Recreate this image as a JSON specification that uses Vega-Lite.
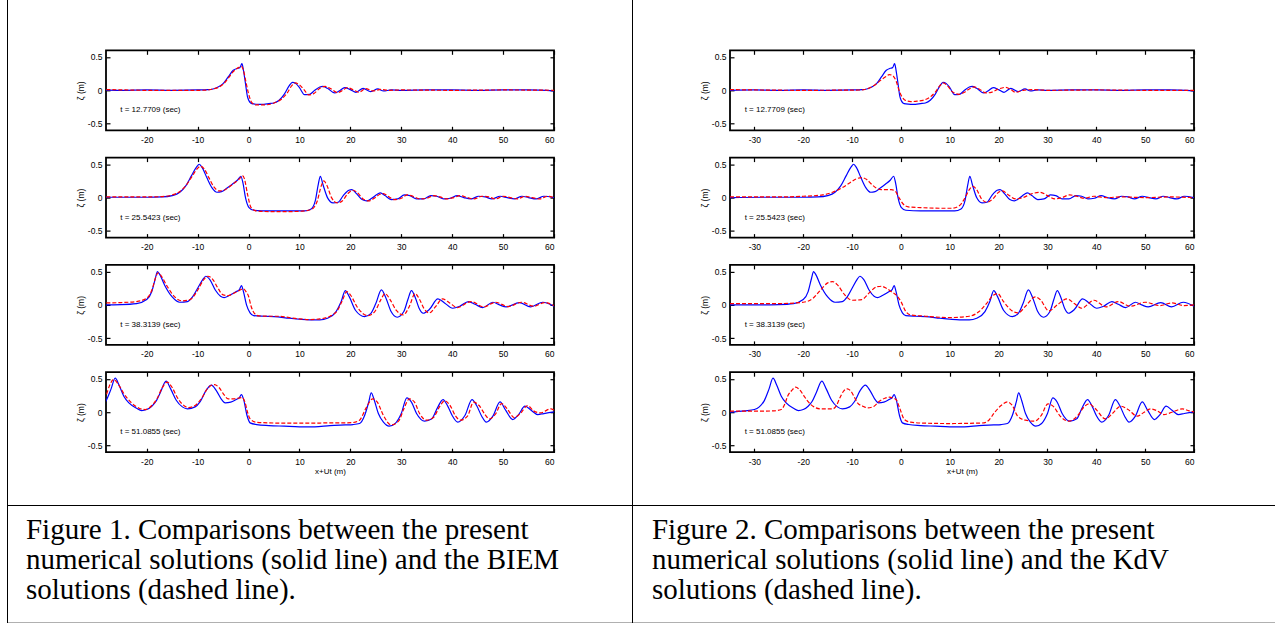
{
  "$schema": "https://vega.github.io/schema/vega-lite/v6.json",
  "padding": {"left": 7, "top": 0, "right": 0, "bottom": 0},
  "background": "white",
  "config": {
    "view": {"stroke": null},
    "axis": {"labelFont": "Liberation Sans Narrow, Liberation Sans, Arial", "labelFontSize": 8.5, "labelColor": "black", "tickColor": "black", "tickWidth": 1.2, "titleFont": "Liberation Sans Narrow, Liberation Sans, Arial", "titleFontSize": 8.5, "titleFontWeight": "normal", "titleColor": "black", "domain": false, "grid": false},
    "text": {"font": "Liberation Sans Narrow, Liberation Sans, Arial", "color": "black"}
  },
  "datasets": {
    "p1": [{"x":-35,"y":0},{"x":-30,"y":0.005},{"x":-25,"y":0},{"x":-20,"y":0.005},{"x":-15,"y":0},{"x":-10,"y":0.005},{"x":-8,"y":0.01},{"x":-7,"y":0.02},{"x":-6,"y":0.05},{"x":-5,"y":0.1},{"x":-4,"y":0.2},{"x":-3,"y":0.3},{"x":-2.2,"y":0.33},{"x":-1.7,"y":0.34},{"x":-1.3,"y":0.4},{"x":-1,"y":0.3},{"x":-0.6,"y":0.1},{"x":-0.2,"y":-0.1},{"x":0.4,"y":-0.19},{"x":1,"y":-0.205},{"x":2,"y":-0.21},{"x":3,"y":-0.21},{"x":4,"y":-0.2},{"x":5,"y":-0.19},{"x":6,"y":-0.15},{"x":7,"y":-0.06},{"x":8,"y":0.07},{"x":8.6,"y":0.12},{"x":9.3,"y":0.1},{"x":10,"y":0.04},{"x":11,"y":-0.065},{"x":12,"y":-0.06},{"x":13,"y":0},{"x":14,"y":0.05},{"x":14.6,"y":0.06},{"x":15.5,"y":0.03},{"x":16.9,"y":-0.04},{"x":17.8,"y":-0.01},{"x":18.9,"y":0.04},{"x":20,"y":0.01},{"x":21.1,"y":-0.03},{"x":22.5,"y":0.03},{"x":24,"y":-0.02},{"x":25.4,"y":0.02},{"x":26.5,"y":-0.01},{"x":28,"y":0.005},{"x":30,"y":0},{"x":35,"y":0.005},{"x":40,"y":0.005},{"x":45,"y":0},{"x":50,"y":0.005},{"x":55,"y":0.005},{"x":60,"y":-0.01}],
    "b1": [{"x":-35,"y":0.01},{"x":-28,"y":0.01},{"x":-20,"y":0},{"x":-10,"y":0},{"x":-8,"y":0.005},{"x":-7,"y":0.02},{"x":-6,"y":0.04},{"x":-5,"y":0.09},{"x":-4,"y":0.18},{"x":-3,"y":0.28},{"x":-2,"y":0.34},{"x":-1.4,"y":0.36},{"x":-1,"y":0.3},{"x":-0.5,"y":0.12},{"x":0,"y":-0.05},{"x":0.6,"y":-0.18},{"x":1.5,"y":-0.22},{"x":3,"y":-0.22},{"x":5,"y":-0.19},{"x":6.5,"y":-0.13},{"x":7.5,"y":-0.05},{"x":8.5,"y":0.07},{"x":9.2,"y":0.11},{"x":10,"y":0.08},{"x":11,"y":0},{"x":11.8,"y":-0.07},{"x":12.8,"y":-0.05},{"x":14,"y":0.03},{"x":15,"y":0.06},{"x":16,"y":0.03},{"x":17.5,"y":-0.035},{"x":18.5,"y":0},{"x":19.4,"y":0.04},{"x":20.5,"y":0.01},{"x":21.7,"y":-0.03},{"x":23,"y":0.025},{"x":24.5,"y":-0.01},{"x":26,"y":0.015},{"x":27.5,"y":0},{"x":30,"y":0.005},{"x":40,"y":0},{"x":50,"y":0.005},{"x":60,"y":0}],
    "k1": [{"x":-35,"y":0.01},{"x":-20,"y":0},{"x":-8,"y":0.005},{"x":-7,"y":0.02},{"x":-6,"y":0.05},{"x":-5,"y":0.1},{"x":-4,"y":0.16},{"x":-3,"y":0.21},{"x":-2.4,"y":0.235},{"x":-1.7,"y":0.22},{"x":-1,"y":0.14},{"x":-0.3,"y":-0.02},{"x":0.7,"y":-0.14},{"x":2,"y":-0.17},{"x":3,"y":-0.165},{"x":4.5,"y":-0.15},{"x":6,"y":-0.1},{"x":7,"y":-0.03},{"x":8,"y":0.07},{"x":8.6,"y":0.11},{"x":9.5,"y":0.07},{"x":10.5,"y":-0.02},{"x":11.9,"y":-0.06},{"x":13,"y":-0.03},{"x":14,"y":0.02},{"x":15,"y":0.05},{"x":16,"y":0.02},{"x":17.4,"y":-0.04},{"x":18.5,"y":-0.03},{"x":20,"y":0.02},{"x":21.5,"y":0.045},{"x":22.5,"y":0.01},{"x":23.5,"y":-0.03},{"x":25,"y":0},{"x":27,"y":0.01},{"x":30,"y":0},{"x":40,"y":0.005},{"x":50,"y":0},{"x":60,"y":0}],
    "p2": [{"x":-35,"y":0},{"x":-28,"y":0.005},{"x":-20,"y":0.005},{"x":-17,"y":0.01},{"x":-15,"y":0.03},{"x":-13.5,"y":0.08},{"x":-12.3,"y":0.18},{"x":-11.2,"y":0.33},{"x":-10.2,"y":0.46},{"x":-9.7,"y":0.5},{"x":-9.1,"y":0.45},{"x":-8.2,"y":0.3},{"x":-7.2,"y":0.15},{"x":-6.2,"y":0.08},{"x":-5.3,"y":0.09},{"x":-4.3,"y":0.14},{"x":-3.2,"y":0.2},{"x":-2.2,"y":0.26},{"x":-1.5,"y":0.32},{"x":-1.1,"y":0.22},{"x":-0.6,"y":0},{"x":0.1,"y":-0.15},{"x":1,"y":-0.19},{"x":4,"y":-0.2},{"x":8,"y":-0.2},{"x":11,"y":-0.2},{"x":12.3,"y":-0.17},{"x":13.1,"y":-0.05},{"x":13.7,"y":0.2},{"x":14.1,"y":0.32},{"x":14.6,"y":0.2},{"x":15.5,"y":0},{"x":16.6,"y":-0.08},{"x":17.6,"y":-0.07},{"x":18.6,"y":0.03},{"x":19.7,"y":0.11},{"x":20.3,"y":0.12},{"x":21.2,"y":0.06},{"x":22.3,"y":-0.03},{"x":23.2,"y":-0.05},{"x":24.2,"y":-0.01},{"x":25.3,"y":0.05},{"x":25.9,"y":0.07},{"x":26.8,"y":0.03},{"x":28,"y":-0.03},{"x":29.3,"y":-0.02},{"x":30.6,"y":0.04},{"x":31.7,"y":0.03},{"x":33,"y":-0.02},{"x":34.4,"y":-0.02},{"x":35.8,"y":0.03},{"x":37,"y":0.02},{"x":38.3,"y":-0.02},{"x":39.6,"y":-0.01},{"x":41,"y":0.03},{"x":42.3,"y":0},{"x":43.7,"y":-0.02},{"x":45.2,"y":0.02},{"x":46.5,"y":0.01},{"x":47.8,"y":-0.02},{"x":49.4,"y":0.02},{"x":50.8,"y":0},{"x":52.2,"y":-0.02},{"x":53.7,"y":0.02},{"x":55,"y":0},{"x":56.5,"y":-0.02},{"x":58,"y":0.02},{"x":60,"y":0}],
    "b2": [{"x":-35,"y":0.005},{"x":-28,"y":0.01},{"x":-20,"y":0.01},{"x":-17,"y":0.015},{"x":-15,"y":0.04},{"x":-13.5,"y":0.09},{"x":-12.2,"y":0.19},{"x":-11,"y":0.33},{"x":-10,"y":0.44},{"x":-9.4,"y":0.47},{"x":-8.7,"y":0.43},{"x":-7.8,"y":0.3},{"x":-6.8,"y":0.16},{"x":-5.8,"y":0.1},{"x":-4.8,"y":0.11},{"x":-3.8,"y":0.16},{"x":-2.8,"y":0.22},{"x":-1.8,"y":0.28},{"x":-1.2,"y":0.33},{"x":-0.8,"y":0.28},{"x":-0.2,"y":0.05},{"x":0.5,"y":-0.15},{"x":1.5,"y":-0.2},{"x":4,"y":-0.21},{"x":8,"y":-0.21},{"x":11,"y":-0.2},{"x":12.5,"y":-0.17},{"x":13.5,"y":-0.05},{"x":14.3,"y":0.18},{"x":14.8,"y":0.25},{"x":15.4,"y":0.18},{"x":16.3,"y":0},{"x":17.4,"y":-0.08},{"x":18.4,"y":-0.05},{"x":19.5,"y":0.06},{"x":20.5,"y":0.11},{"x":21.3,"y":0.08},{"x":22.5,"y":-0.02},{"x":23.6,"y":-0.05},{"x":24.7,"y":-0.01},{"x":25.8,"y":0.05},{"x":26.5,"y":0.06},{"x":27.4,"y":0.02},{"x":28.6,"y":-0.03},{"x":30,"y":-0.01},{"x":31.2,"y":0.04},{"x":32.3,"y":0.02},{"x":33.6,"y":-0.02},{"x":35,"y":-0.01},{"x":36.4,"y":0.03},{"x":37.6,"y":0.01},{"x":38.9,"y":-0.02},{"x":40.3,"y":0},{"x":41.6,"y":0.03},{"x":43,"y":0},{"x":44.3,"y":-0.02},{"x":45.8,"y":0.02},{"x":47.2,"y":0.01},{"x":48.5,"y":-0.02},{"x":50,"y":0.02},{"x":51.4,"y":0},{"x":52.8,"y":-0.02},{"x":54.3,"y":0.02},{"x":55.7,"y":0},{"x":57.2,"y":-0.02},{"x":58.7,"y":0.02},{"x":60,"y":0}],
    "k2": [{"x":-35,"y":0.01},{"x":-25,"y":0.01},{"x":-20,"y":0.02},{"x":-16,"y":0.04},{"x":-14,"y":0.08},{"x":-12,"y":0.15},{"x":-10.5,"y":0.22},{"x":-9.2,"y":0.28},{"x":-8,"y":0.3},{"x":-7,"y":0.27},{"x":-6,"y":0.2},{"x":-5,"y":0.14},{"x":-4,"y":0.12},{"x":-3,"y":0.12},{"x":-2,"y":0.12},{"x":-1.2,"y":0.1},{"x":-0.4,"y":0},{"x":0.5,"y":-0.1},{"x":1.5,"y":-0.14},{"x":4,"y":-0.15},{"x":8,"y":-0.16},{"x":10.5,"y":-0.16},{"x":12,"y":-0.12},{"x":13,"y":-0.02},{"x":14,"y":0.12},{"x":14.7,"y":0.17},{"x":15.5,"y":0.12},{"x":16.5,"y":-0.02},{"x":17.6,"y":-0.07},{"x":18.8,"y":-0.02},{"x":20,"y":0.08},{"x":20.8,"y":0.1},{"x":22,"y":0.04},{"x":23.5,"y":-0.02},{"x":25,"y":0},{"x":26.5,"y":0.05},{"x":28.5,"y":0.08},{"x":30,"y":0.03},{"x":31.5,"y":-0.02},{"x":33,"y":0},{"x":34.5,"y":0.04},{"x":36,"y":0.02},{"x":37.5,"y":-0.01},{"x":39.5,"y":0.02},{"x":42,"y":0},{"x":45,"y":0.01},{"x":50,"y":0},{"x":55,"y":0.01},{"x":60,"y":0}],
    "p3": [{"x":-35,"y":0},{"x":-30,"y":0},{"x":-25,"y":0.005},{"x":-22,"y":0.02},{"x":-20,"y":0.08},{"x":-19,"y":0.2},{"x":-18.3,"y":0.4},{"x":-17.9,"y":0.5},{"x":-17.4,"y":0.45},{"x":-16.5,"y":0.3},{"x":-15,"y":0.12},{"x":-13.5,"y":0.04},{"x":-12,"y":0.05},{"x":-11,"y":0.12},{"x":-10,"y":0.25},{"x":-9,"y":0.38},{"x":-8.4,"y":0.43},{"x":-7.6,"y":0.38},{"x":-6.5,"y":0.22},{"x":-5.5,"y":0.13},{"x":-4.8,"y":0.11},{"x":-3.8,"y":0.14},{"x":-2.4,"y":0.2},{"x":-1.8,"y":0.23},{"x":-1.4,"y":0.29},{"x":-1,"y":0.2},{"x":-0.4,"y":0},{"x":0.3,"y":-0.12},{"x":1,"y":-0.16},{"x":3,"y":-0.17},{"x":5,"y":-0.175},{"x":8,"y":-0.2},{"x":10,"y":-0.215},{"x":12,"y":-0.225},{"x":14,"y":-0.225},{"x":15.5,"y":-0.2},{"x":17.2,"y":-0.1},{"x":18.2,"y":0.05},{"x":19,"y":0.215},{"x":19.8,"y":0.12},{"x":21,"y":-0.08},{"x":22.8,"y":-0.175},{"x":24,"y":-0.13},{"x":25,"y":0.02},{"x":26.1,"y":0.225},{"x":27,"y":0.1},{"x":28,"y":-0.1},{"x":29.2,"y":-0.185},{"x":30.5,"y":-0.1},{"x":31.3,"y":0.08},{"x":32,"y":0.215},{"x":32.8,"y":0.1},{"x":33.5,"y":-0.05},{"x":34.3,"y":-0.125},{"x":35.5,"y":-0.07},{"x":37.2,"y":0.09},{"x":38.5,"y":0.03},{"x":40.1,"y":-0.05},{"x":41.5,"y":-0.02},{"x":43.2,"y":0.05},{"x":44.5,"y":0.01},{"x":46,"y":-0.04},{"x":48,"y":0.04},{"x":49.3,"y":0},{"x":50.6,"y":-0.03},{"x":53.2,"y":0.035},{"x":55.4,"y":-0.03},{"x":57.8,"y":0.04},{"x":60,"y":-0.02}],
    "b3": [{"x":-35,"y":0.03},{"x":-28,"y":0.03},{"x":-25,"y":0.035},{"x":-22,"y":0.05},{"x":-20,"y":0.1},{"x":-19,"y":0.22},{"x":-18.2,"y":0.42},{"x":-17.8,"y":0.48},{"x":-17.2,"y":0.44},{"x":-16,"y":0.28},{"x":-14.5,"y":0.12},{"x":-13,"y":0.06},{"x":-11.5,"y":0.08},{"x":-10,"y":0.22},{"x":-8.8,"y":0.38},{"x":-8,"y":0.43},{"x":-7,"y":0.38},{"x":-6,"y":0.25},{"x":-5,"y":0.15},{"x":-4,"y":0.14},{"x":-3,"y":0.17},{"x":-2,"y":0.21},{"x":-1,"y":0.24},{"x":-0.5,"y":0.2},{"x":0,"y":0.13},{"x":0.5,"y":-0.02},{"x":1.2,"y":-0.13},{"x":2,"y":-0.165},{"x":4,"y":-0.17},{"x":6,"y":-0.17},{"x":8,"y":-0.19},{"x":10,"y":-0.21},{"x":12,"y":-0.22},{"x":14,"y":-0.21},{"x":16,"y":-0.17},{"x":17.5,"y":-0.08},{"x":18.5,"y":0.08},{"x":19.3,"y":0.2},{"x":20,"y":0.15},{"x":21.5,"y":-0.05},{"x":23.4,"y":-0.16},{"x":24.8,"y":-0.1},{"x":26,"y":0.08},{"x":26.8,"y":0.17},{"x":27.8,"y":0.08},{"x":29,"y":-0.08},{"x":30.4,"y":-0.15},{"x":31.6,"y":-0.02},{"x":32.7,"y":0.17},{"x":33.6,"y":0.08},{"x":34.5,"y":-0.06},{"x":35.5,"y":-0.12},{"x":36.8,"y":-0.02},{"x":38.1,"y":0.09},{"x":39.5,"y":0.03},{"x":41,"y":-0.04},{"x":43.7,"y":0.05},{"x":46.2,"y":-0.03},{"x":48.5,"y":0.04},{"x":51,"y":-0.025},{"x":53.6,"y":0.04},{"x":56,"y":-0.02},{"x":58.2,"y":0.035},{"x":60,"y":-0.01}],
    "k3": [{"x":-35,"y":0.02},{"x":-25,"y":0.02},{"x":-20,"y":0.04},{"x":-18,"y":0.1},{"x":-16.5,"y":0.22},{"x":-15,"y":0.33},{"x":-14,"y":0.35},{"x":-13,"y":0.3},{"x":-11.5,"y":0.15},{"x":-10,"y":0.07},{"x":-8,"y":0.08},{"x":-6.5,"y":0.18},{"x":-5,"y":0.27},{"x":-4,"y":0.28},{"x":-3,"y":0.25},{"x":-2,"y":0.2},{"x":-1,"y":0.15},{"x":0,"y":0.05},{"x":1,"y":-0.1},{"x":2,"y":-0.15},{"x":5,"y":-0.17},{"x":10,"y":-0.19},{"x":14,"y":-0.17},{"x":16,"y":-0.1},{"x":17.5,"y":0.02},{"x":19,"y":0.15},{"x":19.8,"y":0.17},{"x":21,"y":0.05},{"x":23,"y":-0.1},{"x":24,"y":-0.12},{"x":25.5,"y":-0.02},{"x":27.5,"y":0.12},{"x":28.5,"y":0.08},{"x":30.3,"y":-0.09},{"x":32,"y":0},{"x":34,"y":0.09},{"x":35.5,"y":0.02},{"x":37,"y":-0.05},{"x":39.5,"y":0.07},{"x":42,"y":-0.03},{"x":44.5,"y":0.05},{"x":47,"y":-0.02},{"x":50,"y":0.04},{"x":53,"y":-0.01},{"x":55.5,"y":0.03},{"x":58,"y":-0.01},{"x":60,"y":0}],
    "p4": [{"x":-35,"y":0},{"x":-32,"y":0.02},{"x":-30,"y":0.04},{"x":-29,"y":0.08},{"x":-28,"y":0.17},{"x":-27,"y":0.35},{"x":-26.2,"y":0.51},{"x":-25.4,"y":0.4},{"x":-24.5,"y":0.24},{"x":-23.5,"y":0.14},{"x":-22,"y":0.06},{"x":-21,"y":0.025},{"x":-20,"y":0.04},{"x":-19,"y":0.09},{"x":-18.2,"y":0.16},{"x":-17.3,"y":0.3},{"x":-16.2,"y":0.465},{"x":-15.3,"y":0.35},{"x":-14.2,"y":0.18},{"x":-13,"y":0.08},{"x":-12,"y":0.05},{"x":-10.5,"y":0.08},{"x":-9.5,"y":0.16},{"x":-8.3,"y":0.33},{"x":-7.3,"y":0.405},{"x":-6.3,"y":0.32},{"x":-5.2,"y":0.18},{"x":-4.6,"y":0.14},{"x":-3.5,"y":0.15},{"x":-2.4,"y":0.19},{"x":-1.8,"y":0.22},{"x":-1.4,"y":0.265},{"x":-1,"y":0.2},{"x":-0.3,"y":-0.05},{"x":0.3,"y":-0.16},{"x":1.6,"y":-0.185},{"x":4,"y":-0.2},{"x":7,"y":-0.21},{"x":10,"y":-0.22},{"x":13,"y":-0.22},{"x":16,"y":-0.2},{"x":19,"y":-0.19},{"x":20.5,"y":-0.185},{"x":21.8,"y":-0.17},{"x":22.8,"y":-0.05},{"x":23.6,"y":0.15},{"x":24.1,"y":0.29},{"x":24.7,"y":0.18},{"x":25.5,"y":-0.02},{"x":26.5,"y":-0.15},{"x":27.6,"y":-0.21},{"x":28.8,"y":-0.17},{"x":30,"y":-0.02},{"x":31.1,"y":0.215},{"x":32,"y":0.15},{"x":33,"y":-0.02},{"x":34.6,"y":-0.135},{"x":36,"y":-0.1},{"x":37,"y":0.05},{"x":38.2,"y":0.19},{"x":39.2,"y":0.08},{"x":40,"y":-0.05},{"x":41.1,"y":-0.15},{"x":42.5,"y":-0.05},{"x":43.9,"y":0.19},{"x":44.8,"y":0.1},{"x":45.8,"y":-0.06},{"x":46.7,"y":-0.15},{"x":48,"y":-0.06},{"x":49.4,"y":0.155},{"x":50.5,"y":0.03},{"x":51.9,"y":-0.11},{"x":53,"y":-0.04},{"x":54.3,"y":0.09},{"x":55.5,"y":0.03},{"x":56.8,"y":-0.035},{"x":58,"y":-0.02},{"x":60,"y":0.005}],
    "b4": [{"x":-35,"y":0.05},{"x":-30,"y":0.1},{"x":-28,"y":0.25},{"x":-27.3,"y":0.4},{"x":-26.5,"y":0.49},{"x":-25.6,"y":0.42},{"x":-24.5,"y":0.28},{"x":-23,"y":0.14},{"x":-21.5,"y":0.06},{"x":-20.3,"y":0.04},{"x":-19,"y":0.1},{"x":-18,"y":0.2},{"x":-17,"y":0.36},{"x":-16,"y":0.45},{"x":-15,"y":0.37},{"x":-14,"y":0.22},{"x":-13,"y":0.12},{"x":-11.8,"y":0.07},{"x":-10.5,"y":0.1},{"x":-9.3,"y":0.2},{"x":-8,"y":0.36},{"x":-6.7,"y":0.415},{"x":-5.8,"y":0.37},{"x":-4.8,"y":0.26},{"x":-4,"y":0.2},{"x":-3,"y":0.2},{"x":-2,"y":0.21},{"x":-1.3,"y":0.22},{"x":-0.7,"y":0.15},{"x":-0.2,"y":0},{"x":0.3,"y":-0.1},{"x":1.5,"y":-0.15},{"x":4,"y":-0.16},{"x":8,"y":-0.165},{"x":12,"y":-0.165},{"x":16,"y":-0.16},{"x":19,"y":-0.16},{"x":20.5,"y":-0.155},{"x":21.8,"y":-0.12},{"x":23,"y":0.05},{"x":24.4,"y":0.2},{"x":25.3,"y":0.15},{"x":26.5,"y":-0.05},{"x":28,"y":-0.19},{"x":29.5,"y":-0.13},{"x":30.5,"y":0.05},{"x":31.6,"y":0.2},{"x":32.6,"y":0.15},{"x":33.6,"y":-0.02},{"x":35,"y":-0.12},{"x":36.3,"y":-0.08},{"x":37.5,"y":0.08},{"x":38.5,"y":0.17},{"x":39.6,"y":0.1},{"x":40.6,"y":-0.05},{"x":41.6,"y":-0.12},{"x":43,"y":-0.06},{"x":44.2,"y":0.15},{"x":45.3,"y":0.1},{"x":46.4,"y":-0.03},{"x":47.3,"y":-0.1},{"x":48.5,"y":-0.03},{"x":49.7,"y":0.13},{"x":50.8,"y":0.05},{"x":52.2,"y":-0.08},{"x":53.5,"y":-0.01},{"x":54.8,"y":0.1},{"x":56,"y":0.02},{"x":57.3,"y":-0.01},{"x":59.4,"y":0.05},{"x":60,"y":0.03}],
    "k4": [{"x":-35,"y":0.015},{"x":-30,"y":0.015},{"x":-26,"y":0.02},{"x":-24.5,"y":0.04},{"x":-23.8,"y":0.12},{"x":-23.2,"y":0.24},{"x":-22.3,"y":0.33},{"x":-21.6,"y":0.375},{"x":-20.8,"y":0.34},{"x":-19.9,"y":0.25},{"x":-19.1,"y":0.165},{"x":-17.8,"y":0.08},{"x":-16.4,"y":0.05},{"x":-14,"y":0.05},{"x":-13.2,"y":0.1},{"x":-12.6,"y":0.2},{"x":-11.7,"y":0.32},{"x":-11,"y":0.35},{"x":-10.2,"y":0.31},{"x":-9.5,"y":0.22},{"x":-8.9,"y":0.14},{"x":-7.8,"y":0.09},{"x":-6.8,"y":0.065},{"x":-5.5,"y":0.09},{"x":-4.5,"y":0.16},{"x":-3.3,"y":0.21},{"x":-2.4,"y":0.225},{"x":-1.7,"y":0.215},{"x":-1,"y":0.19},{"x":-0.2,"y":0.05},{"x":0.7,"y":-0.11},{"x":2,"y":-0.15},{"x":5,"y":-0.165},{"x":10,"y":-0.17},{"x":15,"y":-0.165},{"x":17,"y":-0.16},{"x":18,"y":-0.12},{"x":19.1,"y":-0.01},{"x":20.5,"y":0.1},{"x":21.8,"y":0.155},{"x":22.8,"y":0.1},{"x":23.9,"y":-0.06},{"x":25.5,"y":-0.12},{"x":27.3,"y":-0.135},{"x":28.7,"y":-0.05},{"x":30.1,"y":0.125},{"x":31.3,"y":0.08},{"x":32.5,"y":-0.05},{"x":34.4,"y":-0.135},{"x":36.2,"y":-0.05},{"x":37.5,"y":0.08},{"x":38.5,"y":0.125},{"x":39.7,"y":0.06},{"x":41.9,"y":-0.1},{"x":43.3,"y":-0.02},{"x":45,"y":0.09},{"x":46.5,"y":0.04},{"x":48.4,"y":-0.06},{"x":49.8,"y":0},{"x":51.1,"y":0.05},{"x":52.5,"y":0.02},{"x":53.8,"y":-0.035},{"x":55.5,"y":0},{"x":57.6,"y":0.05},{"x":59,"y":0.02},{"x":60,"y":0.005}]
  },
  "hconcat": [
    {"data": {"values": []}, "mark": "point", "width": 1, "height": 623, "view": {"stroke": null, "fill": "black"}},
    {"vconcat": [
      {"hconcat": [
        {"data": {"values": []}, "mark": "point", "width": 67, "height": 505},
        {"vconcat": [
          {"data": {"values": []}, "mark": "point", "width": 448, "height": 23},
          {"width": 448, "height": 80, "view": {"stroke": "black", "strokeWidth": 1.8},
           "layer": [
            {"data": {"name": "p1"}, "mark": {"type": "line", "color": "#0000ff", "strokeWidth": 1.2, "interpolate": "monotone", "clip": true},
             "encoding": {"x": {"field": "x", "type": "quantitative", "scale": {"domain": [-28, 60], "nice": false, "zero": false}, "axis": {"orient": "bottom", "values": [-20,-10,0,10,20,30,40,50,60], "tickSize": -4, "labelPadding": 9, "title": null, "labelExpr": "replace(datum.label, '\u2212', '-')"}},
                          "y": {"field": "y", "type": "quantitative", "scale": {"domain": [-0.6, 0.6], "nice": false, "zero": false}, "axis": {"orient": "left", "values": [-0.5, 0, 0.5], "tickSize": -4, "labelPadding": 8, "title": "ζ (m)", "titlePadding": 2, "labelExpr": "datum.value == 0 ? '0' : replace(datum.label, '\u2212', '-')"}}}},
            {"data": {"name": "b1"}, "mark": {"type": "line", "color": "#ff0000", "strokeWidth": 1.2, "strokeDash": [4, 2], "interpolate": "monotone", "clip": true},
             "encoding": {"x": {"field": "x", "type": "quantitative", "axis": {"orient": "top", "values": [-20,-10,0,10,20,30,40,50,60], "tickSize": -4, "labels": false, "title": null}},
                          "y": {"field": "y", "type": "quantitative", "axis": {"orient": "right", "values": [-0.5, 0, 0.5], "tickSize": -4, "labels": false, "title": null}}}},
            {"data": {"values": [{"label": "t = 12.7709 (sec)"}]}, "mark": {"type": "text", "align": "left", "baseline": "middle", "fontSize": 8},
             "encoding": {"x": {"datum": -25.2, "type": "quantitative", "axis": null}, "y": {"datum": -0.3, "type": "quantitative", "axis": null}, "text": {"field": "label"}}}
           ],
           "resolve": {"axis": {"x": "independent", "y": "independent"}}},
          {"width": 448, "height": 80, "view": {"stroke": "black", "strokeWidth": 1.8},
           "layer": [
            {"data": {"name": "p2"}, "mark": {"type": "line", "color": "#0000ff", "strokeWidth": 1.2, "interpolate": "monotone", "clip": true},
             "encoding": {"x": {"field": "x", "type": "quantitative", "scale": {"domain": [-28, 60], "nice": false, "zero": false}, "axis": {"orient": "bottom", "values": [-20,-10,0,10,20,30,40,50,60], "tickSize": -4, "labelPadding": 9, "title": null, "labelExpr": "replace(datum.label, '\u2212', '-')"}},
                          "y": {"field": "y", "type": "quantitative", "scale": {"domain": [-0.6, 0.6], "nice": false, "zero": false}, "axis": {"orient": "left", "values": [-0.5, 0, 0.5], "tickSize": -4, "labelPadding": 8, "title": "ζ (m)", "titlePadding": 2, "labelExpr": "datum.value == 0 ? '0' : replace(datum.label, '\u2212', '-')"}}}},
            {"data": {"name": "b2"}, "mark": {"type": "line", "color": "#ff0000", "strokeWidth": 1.2, "strokeDash": [4, 2], "interpolate": "monotone", "clip": true},
             "encoding": {"x": {"field": "x", "type": "quantitative", "axis": {"orient": "top", "values": [-20,-10,0,10,20,30,40,50,60], "tickSize": -4, "labels": false, "title": null}},
                          "y": {"field": "y", "type": "quantitative", "axis": {"orient": "right", "values": [-0.5, 0, 0.5], "tickSize": -4, "labels": false, "title": null}}}},
            {"data": {"values": [{"label": "t = 25.5423 (sec)"}]}, "mark": {"type": "text", "align": "left", "baseline": "middle", "fontSize": 8},
             "encoding": {"x": {"datum": -25.2, "type": "quantitative", "axis": null}, "y": {"datum": -0.3, "type": "quantitative", "axis": null}, "text": {"field": "label"}}}
           ],
           "resolve": {"axis": {"x": "independent", "y": "independent"}}},
          {"width": 448, "height": 80, "view": {"stroke": "black", "strokeWidth": 1.8},
           "layer": [
            {"data": {"name": "p3"}, "mark": {"type": "line", "color": "#0000ff", "strokeWidth": 1.2, "interpolate": "monotone", "clip": true},
             "encoding": {"x": {"field": "x", "type": "quantitative", "scale": {"domain": [-28, 60], "nice": false, "zero": false}, "axis": {"orient": "bottom", "values": [-20,-10,0,10,20,30,40,50,60], "tickSize": -4, "labelPadding": 9, "title": null, "labelExpr": "replace(datum.label, '\u2212', '-')"}},
                          "y": {"field": "y", "type": "quantitative", "scale": {"domain": [-0.6, 0.6], "nice": false, "zero": false}, "axis": {"orient": "left", "values": [-0.5, 0, 0.5], "tickSize": -4, "labelPadding": 8, "title": "ζ (m)", "titlePadding": 2, "labelExpr": "datum.value == 0 ? '0' : replace(datum.label, '\u2212', '-')"}}}},
            {"data": {"name": "b3"}, "mark": {"type": "line", "color": "#ff0000", "strokeWidth": 1.2, "strokeDash": [4, 2], "interpolate": "monotone", "clip": true},
             "encoding": {"x": {"field": "x", "type": "quantitative", "axis": {"orient": "top", "values": [-20,-10,0,10,20,30,40,50,60], "tickSize": -4, "labels": false, "title": null}},
                          "y": {"field": "y", "type": "quantitative", "axis": {"orient": "right", "values": [-0.5, 0, 0.5], "tickSize": -4, "labels": false, "title": null}}}},
            {"data": {"values": [{"label": "t = 38.3139 (sec)"}]}, "mark": {"type": "text", "align": "left", "baseline": "middle", "fontSize": 8},
             "encoding": {"x": {"datum": -25.2, "type": "quantitative", "axis": null}, "y": {"datum": -0.3, "type": "quantitative", "axis": null}, "text": {"field": "label"}}}
           ],
           "resolve": {"axis": {"x": "independent", "y": "independent"}}},
          {"width": 448, "height": 80, "view": {"stroke": "black", "strokeWidth": 1.8},
           "layer": [
            {"data": {"name": "p4"}, "mark": {"type": "line", "color": "#0000ff", "strokeWidth": 1.2, "interpolate": "monotone", "clip": true},
             "encoding": {"x": {"field": "x", "type": "quantitative", "scale": {"domain": [-28, 60], "nice": false, "zero": false}, "axis": {"orient": "bottom", "values": [-20,-10,0,10,20,30,40,50,60], "tickSize": -4, "labelPadding": 9, "title": "x+Ut (m)", "titlePadding": 2, "titleFontSize": 8, "labelExpr": "replace(datum.label, '\u2212', '-')"}},
                          "y": {"field": "y", "type": "quantitative", "scale": {"domain": [-0.6, 0.6], "nice": false, "zero": false}, "axis": {"orient": "left", "values": [-0.5, 0, 0.5], "tickSize": -4, "labelPadding": 8, "title": "ζ (m)", "titlePadding": 2, "labelExpr": "datum.value == 0 ? '0' : replace(datum.label, '\u2212', '-')"}}}},
            {"data": {"name": "b4"}, "mark": {"type": "line", "color": "#ff0000", "strokeWidth": 1.2, "strokeDash": [4, 2], "interpolate": "monotone", "clip": true},
             "encoding": {"x": {"field": "x", "type": "quantitative", "axis": {"orient": "top", "values": [-20,-10,0,10,20,30,40,50,60], "tickSize": -4, "labels": false, "title": null}},
                          "y": {"field": "y", "type": "quantitative", "axis": {"orient": "right", "values": [-0.5, 0, 0.5], "tickSize": -4, "labels": false, "title": null}}}},
            {"data": {"values": [{"label": "t = 51.0855 (sec)"}]}, "mark": {"type": "text", "align": "left", "baseline": "middle", "fontSize": 8},
             "encoding": {"x": {"datum": -25.2, "type": "quantitative", "axis": null}, "y": {"datum": -0.3, "type": "quantitative", "axis": null}, "text": {"field": "label"}}}
           ],
           "resolve": {"axis": {"x": "independent", "y": "independent"}}},
          {"data": {"values": []}, "mark": "point", "width": 448, "height": 25.5}
        ], "spacing": 27.3, "bounds": "flush"}
      ], "spacing": 0},
      {"data": {"values": []}, "mark": "point", "width": 624, "height": 1, "view": {"stroke": null, "fill": "black"}},
      {"data": {"values": [{"line": 1, "text": "Figure 1. Comparisons between the present"}, {"line": 2, "text": "numerical solutions (solid line) and the BIEM"}, {"line": 3, "text": "solutions (dashed line)."}]},
       "mark": {"type": "text", "align": "left", "baseline": "alphabetic", "font": "Liberation Serif", "fontSize": 29},
       "encoding": {"x": {"datum": 0, "type": "quantitative", "scale": {"domain": [-0.0288, 0.9712]}, "axis": null},
                    "y": {"field": "line", "type": "quantitative", "scale": {"domain": [-0.1, 3.767], "reverse": true, "nice": false, "zero": false}, "axis": null},
                    "text": {"field": "text"}},
       "width": 624, "height": 116},
      {"data": {"values": []}, "mark": "point", "width": 624, "height": 1, "view": {"stroke": null, "fill": "#b0b0b0"}}
    ], "spacing": 0},
    {"data": {"values": []}, "mark": "point", "width": 1, "height": 623, "view": {"stroke": null, "fill": "black"}},
    {"vconcat": [
      {"hconcat": [
        {"data": {"values": []}, "mark": "point", "width": 66, "height": 505},
        {"vconcat": [
          {"data": {"values": []}, "mark": "point", "width": 464, "height": 23},
          {"width": 464, "height": 80, "view": {"stroke": "black", "strokeWidth": 1.8},
           "layer": [
            {"data": {"name": "p1"}, "mark": {"type": "line", "color": "#0000ff", "strokeWidth": 1.2, "interpolate": "monotone", "clip": true},
             "encoding": {"x": {"field": "x", "type": "quantitative", "scale": {"domain": [-35, 60], "nice": false, "zero": false}, "axis": {"orient": "bottom", "values": [-30,-20,-10,0,10,20,30,40,50,60], "tickSize": -4, "labelPadding": 9, "title": null, "labelExpr": "replace(datum.label, '\u2212', '-')"}},
                          "y": {"field": "y", "type": "quantitative", "scale": {"domain": [-0.6, 0.6], "nice": false, "zero": false}, "axis": {"orient": "left", "values": [-0.5, 0, 0.5], "tickSize": -4, "labelPadding": 8, "title": "ζ (m)", "titlePadding": 2, "labelExpr": "datum.value == 0 ? '0' : replace(datum.label, '\u2212', '-')"}}}},
            {"data": {"name": "k1"}, "mark": {"type": "line", "color": "#ff0000", "strokeWidth": 1.2, "strokeDash": [4, 2], "interpolate": "monotone", "clip": true},
             "encoding": {"x": {"field": "x", "type": "quantitative", "axis": {"orient": "top", "values": [-30,-20,-10,0,10,20,30,40,50,60], "tickSize": -4, "labels": false, "title": null}},
                          "y": {"field": "y", "type": "quantitative", "axis": {"orient": "right", "values": [-0.5, 0, 0.5], "tickSize": -4, "labels": false, "title": null}}}},
            {"data": {"values": [{"label": "t = 12.7709 (sec)"}]}, "mark": {"type": "text", "align": "left", "baseline": "middle", "fontSize": 8},
             "encoding": {"x": {"datum": -32, "type": "quantitative", "axis": null}, "y": {"datum": -0.3, "type": "quantitative", "axis": null}, "text": {"field": "label"}}}
           ],
           "resolve": {"axis": {"x": "independent", "y": "independent"}}},
          {"width": 464, "height": 80, "view": {"stroke": "black", "strokeWidth": 1.8},
           "layer": [
            {"data": {"name": "p2"}, "mark": {"type": "line", "color": "#0000ff", "strokeWidth": 1.2, "interpolate": "monotone", "clip": true},
             "encoding": {"x": {"field": "x", "type": "quantitative", "scale": {"domain": [-35, 60], "nice": false, "zero": false}, "axis": {"orient": "bottom", "values": [-30,-20,-10,0,10,20,30,40,50,60], "tickSize": -4, "labelPadding": 9, "title": null, "labelExpr": "replace(datum.label, '\u2212', '-')"}},
                          "y": {"field": "y", "type": "quantitative", "scale": {"domain": [-0.6, 0.6], "nice": false, "zero": false}, "axis": {"orient": "left", "values": [-0.5, 0, 0.5], "tickSize": -4, "labelPadding": 8, "title": "ζ (m)", "titlePadding": 2, "labelExpr": "datum.value == 0 ? '0' : replace(datum.label, '\u2212', '-')"}}}},
            {"data": {"name": "k2"}, "mark": {"type": "line", "color": "#ff0000", "strokeWidth": 1.2, "strokeDash": [4, 2], "interpolate": "monotone", "clip": true},
             "encoding": {"x": {"field": "x", "type": "quantitative", "axis": {"orient": "top", "values": [-30,-20,-10,0,10,20,30,40,50,60], "tickSize": -4, "labels": false, "title": null}},
                          "y": {"field": "y", "type": "quantitative", "axis": {"orient": "right", "values": [-0.5, 0, 0.5], "tickSize": -4, "labels": false, "title": null}}}},
            {"data": {"values": [{"label": "t = 25.5423 (sec)"}]}, "mark": {"type": "text", "align": "left", "baseline": "middle", "fontSize": 8},
             "encoding": {"x": {"datum": -32, "type": "quantitative", "axis": null}, "y": {"datum": -0.3, "type": "quantitative", "axis": null}, "text": {"field": "label"}}}
           ],
           "resolve": {"axis": {"x": "independent", "y": "independent"}}},
          {"width": 464, "height": 80, "view": {"stroke": "black", "strokeWidth": 1.8},
           "layer": [
            {"data": {"name": "p3"}, "mark": {"type": "line", "color": "#0000ff", "strokeWidth": 1.2, "interpolate": "monotone", "clip": true},
             "encoding": {"x": {"field": "x", "type": "quantitative", "scale": {"domain": [-35, 60], "nice": false, "zero": false}, "axis": {"orient": "bottom", "values": [-30,-20,-10,0,10,20,30,40,50,60], "tickSize": -4, "labelPadding": 9, "title": null, "labelExpr": "replace(datum.label, '\u2212', '-')"}},
                          "y": {"field": "y", "type": "quantitative", "scale": {"domain": [-0.6, 0.6], "nice": false, "zero": false}, "axis": {"orient": "left", "values": [-0.5, 0, 0.5], "tickSize": -4, "labelPadding": 8, "title": "ζ (m)", "titlePadding": 2, "labelExpr": "datum.value == 0 ? '0' : replace(datum.label, '\u2212', '-')"}}}},
            {"data": {"name": "k3"}, "mark": {"type": "line", "color": "#ff0000", "strokeWidth": 1.2, "strokeDash": [4, 2], "interpolate": "monotone", "clip": true},
             "encoding": {"x": {"field": "x", "type": "quantitative", "axis": {"orient": "top", "values": [-30,-20,-10,0,10,20,30,40,50,60], "tickSize": -4, "labels": false, "title": null}},
                          "y": {"field": "y", "type": "quantitative", "axis": {"orient": "right", "values": [-0.5, 0, 0.5], "tickSize": -4, "labels": false, "title": null}}}},
            {"data": {"values": [{"label": "t = 38.3139 (sec)"}]}, "mark": {"type": "text", "align": "left", "baseline": "middle", "fontSize": 8},
             "encoding": {"x": {"datum": -32, "type": "quantitative", "axis": null}, "y": {"datum": -0.3, "type": "quantitative", "axis": null}, "text": {"field": "label"}}}
           ],
           "resolve": {"axis": {"x": "independent", "y": "independent"}}},
          {"width": 464, "height": 80, "view": {"stroke": "black", "strokeWidth": 1.8},
           "layer": [
            {"data": {"name": "p4"}, "mark": {"type": "line", "color": "#0000ff", "strokeWidth": 1.2, "interpolate": "monotone", "clip": true},
             "encoding": {"x": {"field": "x", "type": "quantitative", "scale": {"domain": [-35, 60], "nice": false, "zero": false}, "axis": {"orient": "bottom", "values": [-30,-20,-10,0,10,20,30,40,50,60], "tickSize": -4, "labelPadding": 9, "title": "x+Ut (m)", "titlePadding": 2, "titleFontSize": 8, "labelExpr": "replace(datum.label, '\u2212', '-')"}},
                          "y": {"field": "y", "type": "quantitative", "scale": {"domain": [-0.6, 0.6], "nice": false, "zero": false}, "axis": {"orient": "left", "values": [-0.5, 0, 0.5], "tickSize": -4, "labelPadding": 8, "title": "ζ (m)", "titlePadding": 2, "labelExpr": "datum.value == 0 ? '0' : replace(datum.label, '\u2212', '-')"}}}},
            {"data": {"name": "k4"}, "mark": {"type": "line", "color": "#ff0000", "strokeWidth": 1.2, "strokeDash": [4, 2], "interpolate": "monotone", "clip": true},
             "encoding": {"x": {"field": "x", "type": "quantitative", "axis": {"orient": "top", "values": [-30,-20,-10,0,10,20,30,40,50,60], "tickSize": -4, "labels": false, "title": null}},
                          "y": {"field": "y", "type": "quantitative", "axis": {"orient": "right", "values": [-0.5, 0, 0.5], "tickSize": -4, "labels": false, "title": null}}}},
            {"data": {"values": [{"label": "t = 51.0855 (sec)"}]}, "mark": {"type": "text", "align": "left", "baseline": "middle", "fontSize": 8},
             "encoding": {"x": {"datum": -32, "type": "quantitative", "axis": null}, "y": {"datum": -0.3, "type": "quantitative", "axis": null}, "text": {"field": "label"}}}
           ],
           "resolve": {"axis": {"x": "independent", "y": "independent"}}},
          {"data": {"values": []}, "mark": "point", "width": 464, "height": 25.5}
        ], "spacing": 27.3, "bounds": "flush"}
      ], "spacing": 0},
      {"data": {"values": []}, "mark": "point", "width": 642, "height": 1, "view": {"stroke": null, "fill": "black"}},
      {"data": {"values": [{"line": 1, "text": "Figure 2. Comparisons between the present"}, {"line": 2, "text": "numerical solutions (solid line) and the KdV"}, {"line": 3, "text": "solutions (dashed line)."}]},
       "mark": {"type": "text", "align": "left", "baseline": "alphabetic", "font": "Liberation Serif", "fontSize": 29},
       "encoding": {"x": {"datum": 0, "type": "quantitative", "scale": {"domain": [-0.0295, 0.9705]}, "axis": null},
                    "y": {"field": "line", "type": "quantitative", "scale": {"domain": [-0.1, 3.767], "reverse": true, "nice": false, "zero": false}, "axis": null},
                    "text": {"field": "text"}},
       "width": 642, "height": 116},
      {"data": {"values": []}, "mark": "point", "width": 642, "height": 1, "view": {"stroke": null, "fill": "#b0b0b0"}}
    ], "spacing": 0}
  ],
  "spacing": 0
}
